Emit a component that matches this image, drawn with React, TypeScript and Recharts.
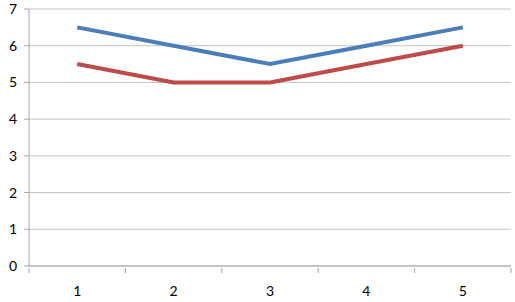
import { LineChart, Line, XAxis, YAxis, CartesianGrid } from 'recharts';

const categories = [1, 2, 3, 4, 5];
const blueValues = [6.5, 6, 5.5, 6, 6.5];
const redValues = [5.5, 5, 5, 5.5, 6];
const yTicks = [0, 1, 2, 3, 4, 5, 6, 7];
const xTicks = [0.5, 1, 1.5, 2, 2.5, 3, 3.5, 4, 4.5, 5, 5.5];

const data = categories.map((c, i) => ({ x: c, blue: blueValues[i], red: redValues[i] }));

const AXIS = '#a6a6a6';
const FONT = 'Lato, "Open Sans", sans-serif';

// integer ticks get a label, half ticks get a tick mark on the category boundary
function XTick(props: any) {
  const { x, y, payload } = props;
  const v = payload.value;
  if (Number.isInteger(v)) {
    return (
      <text x={x} y={y + 22} textAnchor="middle" fontSize={14} fill="#000" fontFamily={FONT}>
        {v}
      </text>
    );
  }
  return <line x1={x} x2={x} y1={y - 6} y2={y - 1} stroke={AXIS} />;
}

export default function App() {
  return (
    <div style={{ width: 515, height: 302 }}>
      <style>{`body{margin:0}`}</style>
      <LineChart width={515} height={302} data={data} margin={{ top: 9, right: 4, bottom: 0, left: 0 }}>
        <CartesianGrid vertical={false} stroke="#c4c4c4" />
        <XAxis
          dataKey="x"
          type="number"
          domain={[0.5, 5.5]}
          ticks={xTicks}
          interval={0}
          height={36}
          tickLine={false}
          axisLine={{ stroke: AXIS }}
          tick={<XTick />}
        />
        <YAxis
          domain={[0, 7]}
          ticks={yTicks}
          width={29}
          tickSize={5}
          tickMargin={7}
          tickLine={{ stroke: AXIS }}
          axisLine={{ stroke: AXIS }}
          tick={{ fontSize: 14, fill: '#000', fontFamily: FONT }}
        />
        <Line dataKey="blue" stroke="#4a7ebb" strokeWidth={4} dot={false} isAnimationActive={false} />
        <Line dataKey="red" stroke="#be4b48" strokeWidth={4} dot={false} isAnimationActive={false} />
      </LineChart>
    </div>
  );
}
